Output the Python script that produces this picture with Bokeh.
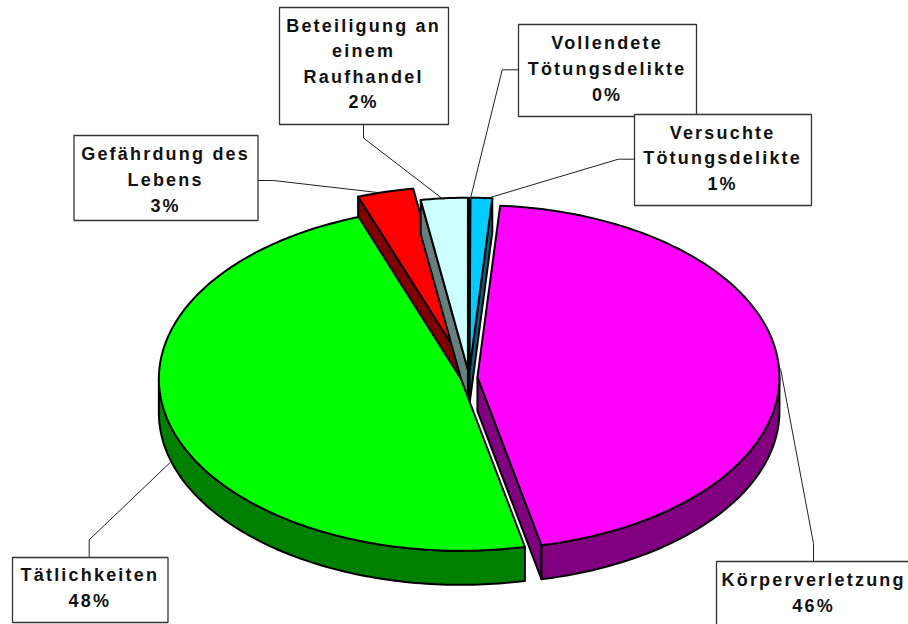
import math
from bokeh.plotting import figure
from bokeh.embed import file_html
from bokeh.resources import INLINE
from bokeh.core.properties import value

# ---- data ----
categories = ["Vollendete Tötungsdelikte", "Versuchte Tötungsdelikte", "Körperverletzung",
              "Tätlichkeiten", "Gefährdung des Lebens", "Beteiligung an einem Raufhandel"]
shares = [0.05, 1.15, 45.4, 47.9, 3.0, 2.5]
top_colors = ["#000080", "#00CCFF", "#FF00FF", "#00FF00", "#FF0000", "#CCFFFF"]
side_colors = ["#000040", "#006680", "#800080", "#008000", "#800000", "#668080"]
explode = [0.045, 0.045, 0.028, 0.028, 0.114, 0.045]
label_lines = [["Vollendete", "Tötungsdelikte", "0%"],
               ["Versuchte", "Tötungsdelikte", "1%"],
               ["Körperverletzung", "46%"],
               ["Tätlichkeiten", "48%"],
               ["Gefährdung des", "Lebens", "3%"],
               ["Beteiligung an", "einem", "Raufhandel", "2%"]]

# ---- layout (reference pixels) ----
CX, CY, RX, RY, DEPTH = 468.5, 377.0, 302.0, 172.0, 34.0
FONT_PX, SPACING = 18, 2.2
TEXT_NUDGE = -1.5
boxes = [(518, 696, 24, 116), (634, 811, 114, 205), (716, 940, 561, 640),
         (12, 167.5, 557, 622), (73.5, 257.5, 135, 220), (279, 448, 7, 124)]
line_y = [[42.7, 68.3, 94], [132.3, 157.7, 183.3], [579, 605],
          [574.3, 600], [153.7, 179.7, 205], [25.7, 50.7, 76.3, 101.7]]
leaders = [([518, 501.7, 469.7], [69.3, 69.3, 199]),
           ([634, 617.7, 484], [158.7, 158.7, 198.7]),
           ([813, 813, 780], [561, 543, 368]),
           ([88.7, 88.7, 170], [557, 539.3, 461.7]),
           ([257, 273, 377], [180, 180, 192]),
           ([363, 363, 443], [124, 137.5, 199])]

p = figure(width=908, height=624, x_range=(0, 908), y_range=(624, 0),
           toolbar_location=None, output_backend="svg", min_border=0)
p.axis.visible = False
p.grid.visible = False
p.outline_line_color = None
p.styles = {"letter-spacing": f"{SPACING}px"}


def pt(c, a, dy=0.0):
    t = math.radians(a)
    return c[0] + RX * math.sin(t), c[1] - RY * math.cos(t) + dy


def arc(c, a0, a1, dy=0.0):
    n = max(2, int(abs(a1 - a0)) + 2)
    return [pt(c, a0 + (a1 - a0) * i / (n - 1), dy) for i in range(n)]


def poly(points, fill, lw=2.0):
    p.patch([q[0] for q in points], [q[1] for q in points], fill_color=fill,
            line_color="black", line_width=lw, line_join="round")


# slice geometry from the shares
total = sum(shares)
spans, a = [], 0.0
for s in shares:
    spans.append((a, a + 360.0 * s / total))
    a = spans[-1][1]
centres = []
for (a0, a1), f in zip(spans, explode):
    tm = math.radians((a0 + a1) / 2)
    centres.append((CX + RX * f * math.sin(tm), CY - RY * f * math.cos(tm)))

# back to front
for i in [4, 5, 0, 1, 3, 2]:
    a0, a1 = spans[i]
    c = centres[i]
    side = side_colors[i]
    if math.sin(math.radians(a0)) < 0:
        e = pt(c, a0)
        poly([c, e, (e[0], e[1] + DEPTH), (c[0], c[1] + DEPTH)], side)
    if math.sin(math.radians(a1)) > 0:
        e = pt(c, a1)
        poly([c, e, (e[0], e[1] + DEPTH), (c[0], c[1] + DEPTH)], side)
    lo, hi = max(a0, 90.0), min(a1, 270.0)
    if lo < hi:
        poly(arc(c, lo, hi) + arc(c, hi, lo, DEPTH), side)
    poly([c] + arc(c, a0, a1), top_colors[i], lw=1.6 if i == 0 else 2.0)

# callouts
for box, lead, lines, ys in zip(boxes, leaders, label_lines, line_y):
    p.line(lead[0], lead[1], line_color="#222222", line_width=1)
    p.quad(left=[box[0]], right=[box[1]], top=[box[2]], bottom=[box[3]],
           fill_color="white", line_color="#333333", line_width=1.3)
    mid = (box[0] + box[1]) / 2 if box[1] < 900 else 813.5
    for line, y in zip(lines, ys):
        # the browser's letter-spacing widens the run to the right only
        shift = SPACING * (len(line) - 1) / 2
        p.text([mid - shift + TEXT_NUDGE], [y], text=[line], text_font=value("Liberation Sans"),
               text_font_style="bold", text_font_size=f"{FONT_PX}px", text_color="#111111",
               text_align="center", text_baseline="middle")

open("out.html", "w").write(file_html(p, INLINE))
